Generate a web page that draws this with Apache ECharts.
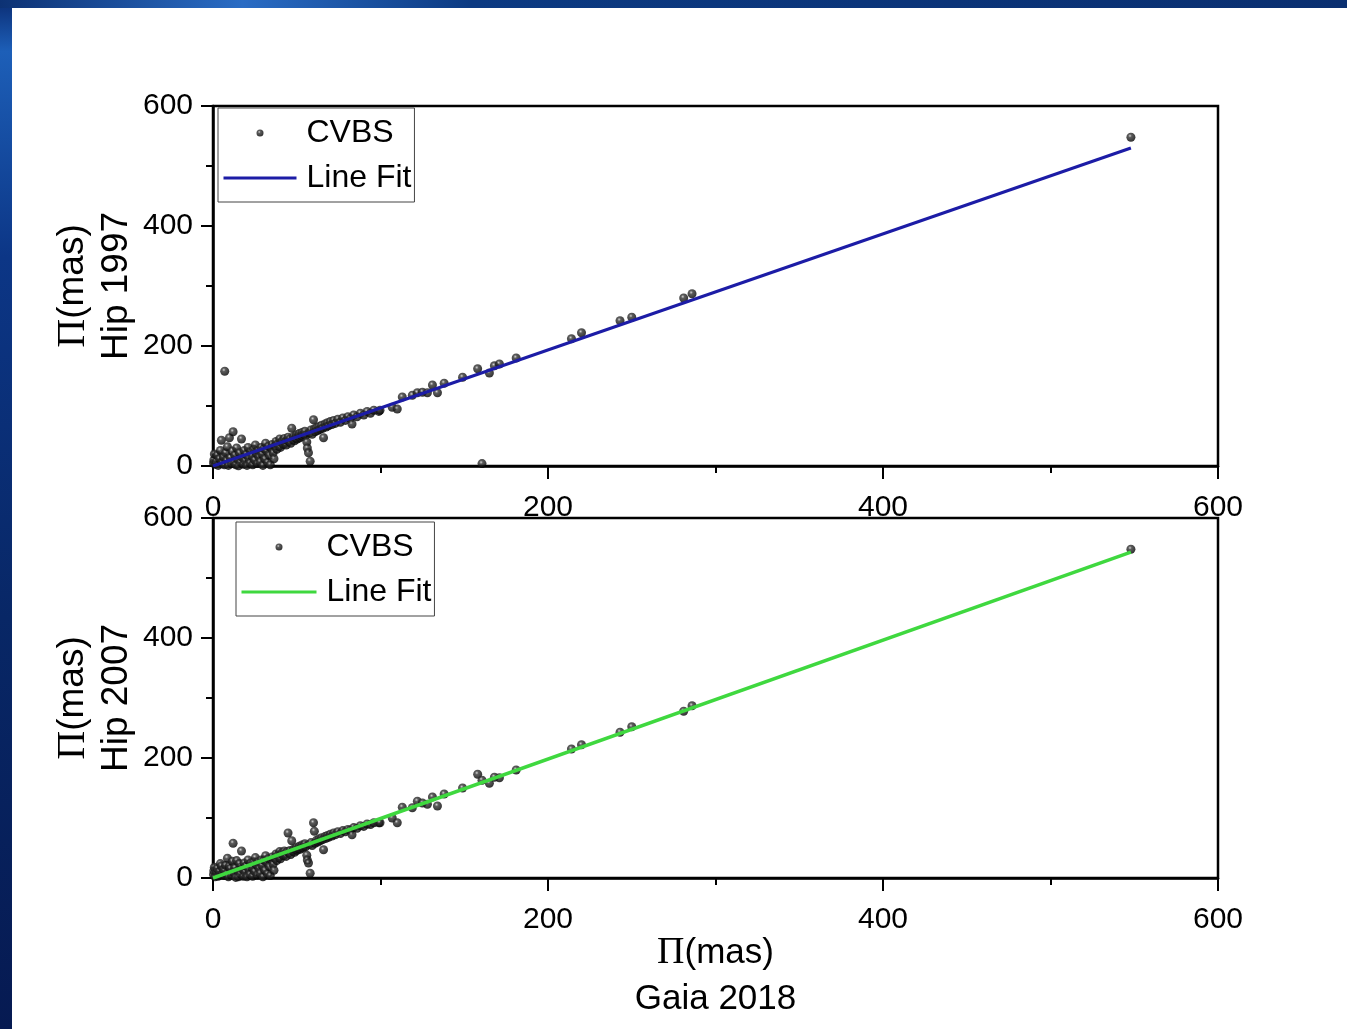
<!DOCTYPE html>
<html>
<head>
<meta charset="utf-8">
<title>Parallax comparison: Hipparcos vs Gaia 2018</title>
<script src="https://cdn.jsdelivr.net/npm/echarts@6/dist/echarts.min.js"></script>
<style>
  html, body { margin: 0; padding: 0; background: #fff; }
  #chart { width: 1347px; height: 1029px; }
</style>
</head>
<body>
<div id="chart"></div>
<script>
// Gaia 2018 parallaxes (mas) of the CVBS stars
const gaiaParallax = [
  0.3, 0.5, 0.8, 1.2, 2.0, 2.5, 3.1, 3.8, 4.4, 5.0,
  5.5, 6.2, 6.8, 7.0, 7.5, 8.1, 8.6, 9.2, 9.8, 10.3,
  10.9, 11.5, 12.0, 12.4, 13.0, 13.6, 14.1, 14.7, 15.2, 15.8,
  16.4, 17.0, 17.5, 18.1, 18.7, 19.2, 19.8, 20.3, 20.9, 21.4,
  22.0, 22.6, 23.1, 23.7, 24.2, 24.8, 25.3, 25.9, 26.4, 27.0,
  27.5, 28.1, 28.7, 29.2, 29.8, 30.3, 30.9, 31.4, 32.0, 32.6,
  33.1, 33.7, 34.2, 34.8, 35.3, 35.9, 36.4, 37.0, 37.6, 38.1,
  38.7, 39.2, 39.8, 40.3, 40.9, 41.4, 42.0, 42.6, 43.1, 43.7,
  44.2, 44.8, 45.3, 45.9, 46.4, 47.0, 47.5, 48.1, 48.7, 49.2,
  49.8, 50.3, 50.9, 51.4, 52.0, 52.6, 53.1, 53.7, 54.2, 54.8,
  55.3, 56.0, 56.3, 57.0, 58.0, 57.5, 58.5, 59.2, 60.0, 60.5,
  61.0, 61.8, 62.5, 63.2, 64.0, 64.8, 65.5, 66.0, 66.8, 67.5,
  68.3, 69.0, 70.0, 71.0, 72.0, 73.0, 74.5, 76.0, 77.5, 79.0,
  80.5, 82.0, 83.0, 84.0, 86.0, 88.0, 90.0, 92.0, 94.0, 96.0,
  99.0, 99.7, 107, 110, 113, 119, 122, 125, 128, 131,
  134, 138, 149, 158, 160.6, 165, 168, 171, 181, 214,
  220, 243, 250, 281, 286, 548
];

// Hipparcos 1997 parallaxes (mas), same stars
const hip1997 = [
  5, 10, 20, 3, 8, 18, 1, 12, 26, 43,
  6, 15, 2, 158, 22, 9, 32, 1, 47, 14,
  4, 25, 57, 7, 18, 2, 30, 11, 0.5, 22,
  6, 45, 14, 3, 26, 9, 19, 1, 31, 13,
  5, 24, 17, 2, 28, 10, 35, 21, 4, 26,
  15, 7, 31, 20, 1, 29, 12, 38, 25, 6,
  33, 18, 2, 30, 36, 22, 12, 34, 41, 28,
  37, 33, 45, 31, 39, 42, 36, 46, 40, 35,
  43, 48, 41, 45, 38, 63, 44, 49, 42, 47,
  52, 45, 50, 54, 47, 51, 56, 49, 53, 58,
  51, 40, 30, 22, 8, 55, 60, 53, 77, 62,
  57, 64, 59, 66, 61, 68, 63, 47, 70, 65,
  72, 67, 74, 69, 76, 71, 78, 73, 80, 76,
  82, 79, 70, 85, 82, 88, 85, 91, 88, 93,
  91, 93, 98, 95, 115, 118, 122, 123, 122, 135,
  122, 138, 148, 162, 4, 155, 167, 170, 180, 212,
  222, 242, 248, 280, 287, 548
];

// Hipparcos 2007 (new reduction) parallaxes (mas), same stars
const hip2007 = [
  6, 12, 18, 2, 10, 16, 3, 11, 24, 20,
  8, 14, 4, 12, 21, 7, 33, 2, 20, 16,
  5, 28, 58, 9, 17, 1, 29, 12, 2, 24,
  7, 45, 15, 3, 25, 10, 20, 2, 30, 14,
  6, 25, 18, 3, 27, 11, 34, 22, 5, 27,
  16, 8, 30, 21, 2, 30, 13, 37, 26, 7,
  32, 19, 4, 31, 35, 23, 13, 33, 40, 29,
  38, 34, 44, 32, 40, 43, 37, 45, 41, 36,
  44, 75, 42, 46, 39, 62, 45, 48, 43, 48,
  51, 46, 49, 53, 48, 52, 55, 50, 54, 57,
  52, 38, 30, 25, 8, 56, 59, 54, 92, 78,
  58, 63, 60, 65, 62, 67, 64, 47, 69, 66,
  71, 68, 73, 70, 75, 72, 77, 74, 79, 77,
  81, 80, 72, 84, 83, 87, 86, 90, 89, 92,
  92, 92, 100, 92, 118, 117, 128, 125, 123, 135,
  120, 140, 150, 173, 163, 158, 168, 167, 180, 215,
  222, 243, 252, 278, 287, 548
];

// Linear fits: end points of each fitted line
const fitX = [0, 548];
const fit1997 = [0, 530];
const fit2007 = [0, 543];

// Axis ticks
const axisTicks = [0, 200, 400, 600];

const pairs = (xs, ys) => xs.map((x, i) => [x, ys[i]]);

const ballStyle = {
  color: {
    type: 'radial', x: 0.4, y: 0.35, r: 0.65,
    colorStops: [
      { offset: 0, color: '#c8c8c8' },
      { offset: 0.3, color: '#333' },
      { offset: 1, color: '#000' }
    ]
  }
};

const FONT = 'Liberation Sans, Arial, sans-serif';
const SERIF = 'Liberation Serif, Times New Roman, serif';

function nameStyle(fontSize, lineHeight) {
  return {
    fontSize, color: '#000', fontFamily: FONT, lineHeight,
    rich: {
      p: { fontFamily: SERIF, fontSize: fontSize + 3, color: '#000', lineHeight },
      t: { fontFamily: FONT, fontSize, color: '#000', lineHeight }
    }
  };
}

function makeXAxis(gridIndex, withName) {
  const ax = {
    type: 'value', gridIndex,
    min: axisTicks[0], max: axisTicks[axisTicks.length - 1],
    interval: axisTicks[1] - axisTicks[0],
    axisLine: { lineStyle: { color: '#000', width: 2.5 } },
    axisTick: { length: 13, lineStyle: { color: '#000', width: 2 } },
    minorTick: { show: true, splitNumber: 2, length: 7, lineStyle: { color: '#000', width: 2 } },
    splitLine: { show: false },
    axisLabel: { fontSize: 30, color: '#000', fontFamily: FONT, margin: 27 }
  };
  if (withName) {
    ax.name = '{p|\u03A0}{t|(mas)}\n{t|Gaia 2018}';
    ax.nameLocation = 'middle';
    ax.nameGap = 52;
    ax.nameMoveOverlap = false;
    ax.nameTextStyle = nameStyle(35, 46);
  }
  return ax;
}

function makeYAxis(gridIndex, yearLabel) {
  return {
    type: 'value', gridIndex,
    min: axisTicks[0], max: axisTicks[axisTicks.length - 1],
    interval: axisTicks[1] - axisTicks[0],
    axisLine: { lineStyle: { color: '#000', width: 2.5 } },
    axisTick: { length: 12, lineStyle: { color: '#000', width: 2 } },
    minorTick: { show: true, splitNumber: 2, length: 7, lineStyle: { color: '#000', width: 2 } },
    splitLine: { show: false },
    axisLabel: { fontSize: 30, color: '#000', fontFamily: FONT, margin: 20 },
    name: '{p|\u03A0}{t|(mas)}\n{t|' + yearLabel + '}',
    nameLocation: 'middle',
    nameGap: 74,
    nameMoveOverlap: false,
    nameTextStyle: nameStyle(37, 44)
  };
}

const hiddenMarker = { color: 'transparent', borderColor: 'transparent', borderWidth: 0 };

function makeLegend(dotName, lineName, lineColor, left, top, iconWidth) {
  return {
    data: [
      { name: dotName },
      { name: lineName, itemStyle: hiddenMarker, lineStyle: { color: lineColor, width: 3 } }
    ],
    orient: 'vertical',
    left, top,
    padding: [9, 3, 8, 4],
    itemGap: 13,
    itemWidth: iconWidth,
    itemHeight: 7,
    borderColor: '#444',
    borderWidth: 1,
    selectedMode: false,
    formatter: (n) => n.replace(/ \d{4}$/, ''),
    textStyle: { fontSize: 32, color: '#000', fontFamily: FONT, padding: [0, 0, 0, 5] }
  };
}

const chart = echarts.init(document.getElementById('chart'), null, { renderer: 'canvas' });

chart.setOption({
  backgroundColor: '#fff',
  animation: false,
  graphic: [
    {
      type: 'rect', left: 0, top: 0, z: 100,
      shape: { width: 12, height: 1029 },
      style: {
        fill: {
          type: 'linear', x: 0, y: 0, x2: 0, y2: 1,
          colorStops: [
            { offset: 0, color: '#0b2d74' },
            { offset: 0.05, color: '#1d5fb8' },
            { offset: 0.25, color: '#0c3686' },
            { offset: 0.6, color: '#082766' },
            { offset: 1, color: '#061a52' }
          ]
        }
      }
    },
    {
      type: 'rect', left: 0, top: 0, z: 100,
      shape: { width: 1347, height: 8 },
      style: {
        fill: {
          type: 'linear', x: 0, y: 0, x2: 1, y2: 0,
          colorStops: [
            { offset: 0, color: '#0d3274' },
            { offset: 0.18, color: '#2a6cc4' },
            { offset: 0.35, color: '#0c3a82' },
            { offset: 1, color: '#0a2f70' }
          ]
        }
      }
    }
  ],
  grid: [
    { left: 213, top: 106, width: 1005, height: 360, show: true, borderColor: '#000', borderWidth: 2.5, backgroundColor: 'transparent' },
    { left: 213, top: 518, width: 1005, height: 360, show: true, borderColor: '#000', borderWidth: 2.5, backgroundColor: 'transparent' }
  ],
  xAxis: [makeXAxis(0, false), makeXAxis(1, true)],
  yAxis: [makeYAxis(0, 'Hip 1997'), makeYAxis(1, 'Hip 2007')],
  legend: [
    makeLegend('CVBS 1997', 'Line Fit 1997', '#1c1ca6', 218, 108, 73),
    makeLegend('CVBS 2007', 'Line Fit 2007', '#3fd83f', 236, 522, 75)
  ],
  series: [
    {
      name: 'CVBS 1997', type: 'scatter', xAxisIndex: 0, yAxisIndex: 0,
      symbol: 'circle', symbolSize: 9, itemStyle: ballStyle, z: 2,
      data: pairs(gaiaParallax, hip1997)
    },
    {
      name: 'Line Fit 1997', type: 'line', xAxisIndex: 0, yAxisIndex: 0,
      showSymbol: false, symbol: 'none', z: 3,
      lineStyle: { color: '#1c1ca6', width: 3 },
      itemStyle: { color: '#1c1ca6' },
      data: pairs(fitX, fit1997)
    },
    {
      name: 'CVBS 2007', type: 'scatter', xAxisIndex: 1, yAxisIndex: 1,
      symbol: 'circle', symbolSize: 9, itemStyle: ballStyle, z: 2,
      data: pairs(gaiaParallax, hip2007)
    },
    {
      name: 'Line Fit 2007', type: 'line', xAxisIndex: 1, yAxisIndex: 1,
      showSymbol: false, symbol: 'none', z: 3,
      lineStyle: { color: '#3fd83f', width: 3.5 },
      itemStyle: { color: '#3fd83f' },
      data: pairs(fitX, fit2007)
    }
  ]
});
</script>
</body>
</html>
